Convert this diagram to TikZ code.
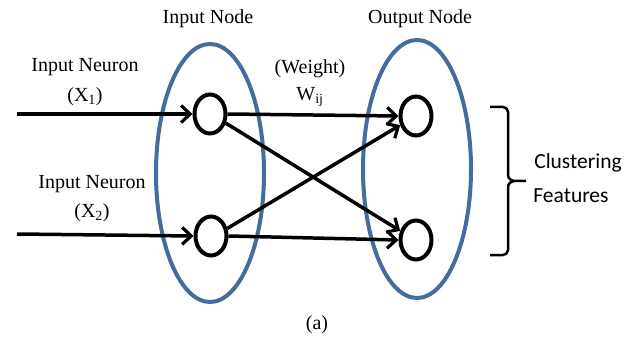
\documentclass[tikz,border=0pt]{standalone}
\usepackage{fontspec}
\setmainfont{Liberation Serif}
\newfontfamily\calib{Carlito}
\usetikzlibrary{arrows.meta,shapes.geometric}
\definecolor{grpblue}{RGB}{68,108,156}
\tikzset{
  grp/.style={ellipse,draw=grpblue,line width=4pt,minimum width=108pt,minimum height=258pt,inner sep=0pt},
  neuron/.style={ellipse,draw=black,line width=4pt,minimum width=31pt,minimum height=39pt,inner sep=0pt,fill=white},
  conn/.style={line width=3.5pt,-{Straight Barb[length=9pt,width=17pt,line width=3.2pt]}},
  lbl/.style={font=\fontsize{20}{22}\selectfont,inner sep=0pt},
  clbl/.style={font=\calib\fontsize{21.5}{24}\selectfont,inner sep=0pt}
}
\begin{document}
\begin{tikzpicture}[x=1pt,y=-1pt]
\useasboundingbox (0,0) rectangle (634,339);
% group ellipses
\node[grp] (gin) at (210,173) {};
\node[grp] (gout) at (417,169) {};
% neurons
\node[neuron] (n1) at (210,114) {};
\node[neuron] (n2) at (211,236) {};
\node[neuron] (n3) at (416,116) {};
\node[neuron] (n4) at (416,240) {};
% input arrows
\coordinate (s1) at (17,114);
\coordinate (s2) at (17,234);
\draw[conn] (s1) -- (n1.west);
\draw[conn] (s2) -- (n2.west);
% connections
\draw[conn] (n1.east) -- (n3.west);
\draw[conn] (n2.east) -- (n4.west);
\draw[conn] (n1.-30) -- (n4.150);
\draw[conn] (n2.25) -- (n3.-150);
% labels
\node[lbl] (tin) at (208,19) {Input Node};
\node[lbl] (tout) at (420,19) {Output Node};
\node[lbl] (tn1) at (85,67) {Input Neuron};
\node[lbl] (tx1) at (85,97) {(X\textsubscript{1})};
\node[lbl] (tn2) at (92,184) {Input Neuron};
\node[lbl] (tx2) at (92,213) {(X\textsubscript{2})};
\node[lbl] (tw) at (310,69) {(Weight)};
\node[lbl] (twij) at (310,97) {W\textsubscript{ij}};
\node[clbl] (tc) at (578,163) {Clustering};
\node[clbl] (tf) at (571,196) {Features};
\node[lbl] (ta) at (317,325) {(a)};
% bracket
\draw[line width=2.5pt,line join=round]
  (490,107) -- (503,107) to[out=0,in=90] (508,112) -- (508,175)
  to[out=-90,in=180] (515,181) -- (526,181)
  (515,181) to[out=180,in=90] (508,187) -- (508,250)
  to[out=-90,in=0] (503,255) -- (490,255);
\end{tikzpicture}
\end{document}
